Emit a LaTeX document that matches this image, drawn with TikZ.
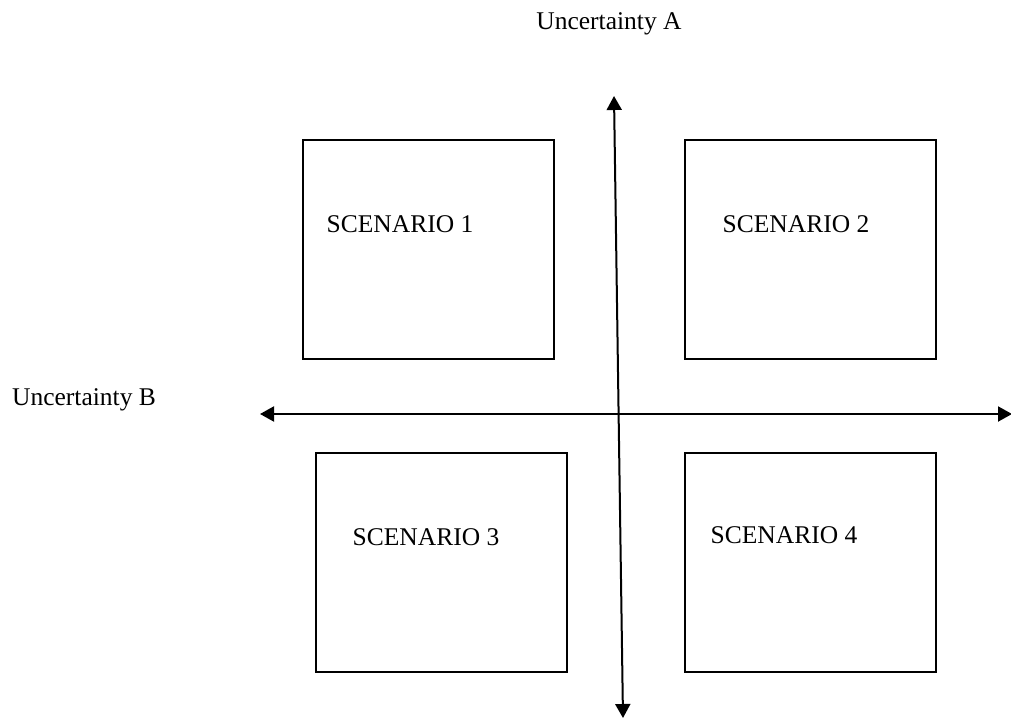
\documentclass[tikz,border=0pt]{standalone}
\usepackage{fontspec}
\setmainfont{Liberation Serif}
\usetikzlibrary{arrows.meta}
\begin{document}
\begin{tikzpicture}[x=1pt,y=-1pt,
  scenbox/.style={draw=black,line width=2pt,minimum width=251pt,minimum height=219pt,inner sep=0pt},
  scentext/.style={font=\fontsize{25.5}{30}\selectfont,anchor=base,inner sep=0pt},
  axisboth/.style={line width=2pt,{Triangle[length=14pt,width=15pt]}-{Triangle[length=14pt,width=15pt]}}]
  \useasboundingbox (0,0) rectangle (1011,719);
  % four scenario boxes
  \node[scenbox] (b1) at (428.5,249.5) {};
  \node[scenbox] (b2) at (810.5,249.5) {};
  \node[scenbox] (b3) at (441,562.5) {};
  \node[scenbox] (b4) at (810.5,562.5) {};
  % scenario labels
  \node[scentext] (t1) at (400,233) {SCENARIO 1};
  \node[scentext] (t2) at (796,233) {SCENARIO 2};
  \node[scentext] (t3) at (426,545) {SCENARIO 3};
  \node[scentext] (t4) at (784,543) {SCENARIO 4};
  % axis labels
  \node[scentext] (ua) at (609,30) {Uncertainty A};
  \node[scentext] (ub) at (84,405) {Uncertainty B};
  % axis end points
  \coordinate (atop) at (614,96);
  \coordinate (abot) at (623,718);
  \coordinate (bleft) at (260,414);
  \coordinate (bright) at (1012,414);
  \draw[axisboth] (atop) -- (abot);
  \draw[axisboth] (bleft) -- (bright);
\end{tikzpicture}
\end{document}
